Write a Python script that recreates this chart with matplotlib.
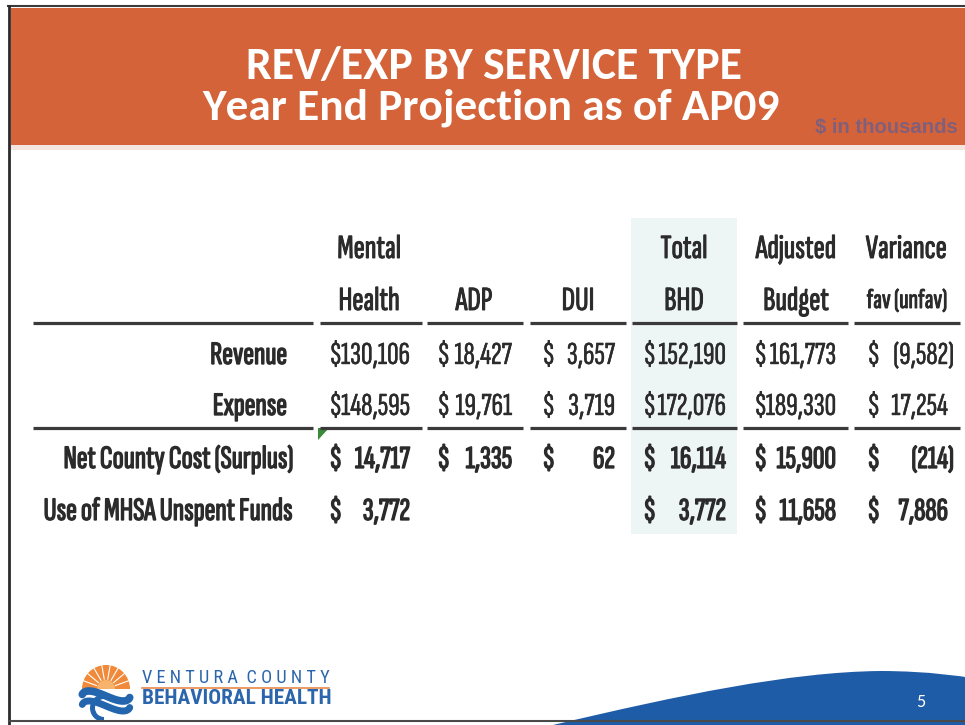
import matplotlib
matplotlib.use("Agg")
import matplotlib.pyplot as plt
import numpy as np
from matplotlib.patches import Rectangle, Polygon, Wedge, PathPatch
from matplotlib.path import Path
from matplotlib.textpath import TextPath
from matplotlib.font_manager import FontProperties
import matplotlib.patheffects as pe

# ---------------- data ----------------
title_lines = ["REV/EXP BY SERVICE TYPE", "Year End Projection as of AP09"]
units_note = "$ in thousands"
header_top = ["Mental", "", "", "Total", "Adjusted", "Variance"]
header_bottom = ["Health", "ADP", "DUI", "BHD", "Budget", "fav (unfav)"]
row_labels = ["Revenue", "Expense", "Net County Cost (Surplus)", "Use of MHSA Unspent Funds"]
revenue = [130106, 18427, 3657, 152190, 161773, -9582]
expense = [148595, 19761, 3719, 172076, 189330, 17254]
net_cost = [14717, 1335, 62, 16114, 15900, -214]
mhsa_use = [3772, None, None, 3772, 11658, 7886]
rows = [revenue, expense, net_cost, mhsa_use]
row_bold = [False, False, True, True]
logo_top = "V E N T U R A  C O U N T Y"
logo_bottom = "BEHAVIORAL HEALTH"
slide_no = "5"

# ---------------- layout ----------------
W, H, DPI = 965, 725, 100
fig = plt.figure(figsize=(W / DPI, H / DPI), dpi=DPI)
ax = fig.add_axes([0, 0, 1, 1])
ax.set_xlim(0, W)
ax.set_ylim(H, 0)
ax.axis("off")

TFONT = ["Carlito", "DejaVu Sans"]
CFONT = ["Sofia Sans Extra Condensed", "Saira ExtraCondensed",
         "Fira Sans Extra Condensed", "DejaVu Sans"]
LFONT = ["Roboto Condensed", "DejaVu Sans"]
TXT = "#2b2b2b"
BOLD = [pe.withStroke(linewidth=0.95, foreground=TXT)]
SEMI = [pe.withStroke(linewidth=0.7, foreground=TXT)]
REG = [pe.withStroke(linewidth=0.3, foreground=TXT)]


def fit(text, target_px, family, weight):
    fp = FontProperties(family=family, weight=weight)
    w = TextPath((0, 0), text, size=100, prop=fp).get_extents().width
    return target_px / (w / 100 * DPI / 72)


# frame
ax.plot([8, 965], [6, 6], color="#3a3a3a", lw=1.5)
ax.plot([9, 9], [6, 725], color="#2a2a2a", lw=2.0)
ax.plot([9, 965], [721, 721], color="#4a4a4a", lw=1.5)

# banner
ax.add_patch(Rectangle((11, 8), W - 11, 137, color="#D4633A", lw=0))
ax.add_patch(Rectangle((11, 145), W - 11, 5, color="#F4E6DF", lw=0))

ts = fit(title_lines[0], 492, TFONT, "bold")
ax.text(494, 79, title_lines[0], color="white", fontsize=ts, family=TFONT,
        weight="bold", ha="center", va="baseline")
ts2 = fit(title_lines[1], 577, TFONT, "bold")
ax.text(491, 119, title_lines[1], color="white", fontsize=ts2, family=TFONT,
        weight="bold", ha="center", va="baseline")
us = fit(units_note, 142, ["Liberation Sans", "DejaVu Sans"], "bold")
ax.text(815, 133, units_note, color="#6B5F8C", fontsize=us,
        family=["Liberation Sans", "DejaVu Sans"], weight="bold", ha="left",
        va="baseline", alpha=0.8)

# shaded total column
ax.add_patch(Rectangle((631, 218), 106, 316, color="#EEF5F5", lw=0, zorder=0))

# table geometry
col_centers = [369, 474, 578, 684, 796, 906]
dollar_x = [329, 437, 542, 643, 754, 867]
num_right = [410, 512, 615, 726, 836, 948]
seg_x = [(33, 313), (320, 422), (427, 523), (530, 626), (632, 737),
         (743, 848), (854, 960)]
line_y = [323, 428]
head_base = [258, 310]
row_base = [364, 415, 468, 520]
label_right = [287, 287, 293, 293]

hs = fit("Adjusted", 79, CFONT, "semibold")
hs_small = fit("fav (unfav)", 79, CFONT, "semibold")
for i in range(len(col_centers)):
    if header_top[i]:
        ax.text(col_centers[i], head_base[0], header_top[i], fontsize=hs,
                family=CFONT, weight="semibold", color=TXT, ha="center",
                va="baseline", path_effects=SEMI)
    small = header_bottom[i] == "fav (unfav)"
    ax.text(col_centers[i] + (1 if small else 0), head_base[1] - (2 if small else 0),
            header_bottom[i], fontsize=hs_small if small else hs,
            family=CFONT, weight="semibold", color=TXT, ha="center",
            va="baseline", path_effects=SEMI)

for y in line_y:
    for x0, x1 in seg_x:
        ax.plot([x0, x1], [y, y], color="#3a3a3a", lw=2.3,
                solid_capstyle="butt")

ls = fit("Net County Cost (Surplus)", 227, CFONT, "bold")
ns = fit("3,657", 47, CFONT, "normal")
for r, lab in enumerate(row_labels):
    ax.text(label_right[r], row_base[r], lab, fontsize=ls, family=CFONT,
            weight="bold", color=TXT, ha="right", va="baseline",
            path_effects=BOLD)
    wt = "bold" if row_bold[r] else "normal"
    eff = BOLD if row_bold[r] else REG
    for c, v in enumerate(rows[r]):
        if v is None:
            continue
        ax.text(dollar_x[c], row_base[r], "$", fontsize=ns, family=CFONT,
                weight=wt, color=TXT, ha="left", va="baseline",
                path_effects=eff)
        if v < 0:
            s = f"({abs(v):,})"
            xr = num_right[c] + 6
        else:
            s = f"{v:,}"
            xr = num_right[c]
        ax.text(xr, row_base[r], s, fontsize=ns, family=CFONT, weight=wt,
                color=TXT, ha="right", va="baseline", path_effects=eff)

# excel comment marker
ax.add_patch(Polygon([[318, 428], [329, 428], [318, 440]], closed=True,
                     color="#3A8A3A", lw=0))

# bottom wave
verts = [(553, 725), (680, 695), (790, 672), (880, 671), (930, 671),
         (965, 677), (965, 677), (965, 725), (553, 725)]
codes = [Path.MOVETO, Path.CURVE4, Path.CURVE4, Path.CURVE4, Path.CURVE4,
         Path.CURVE4, Path.LINETO, Path.LINETO, Path.CLOSEPOLY]
ax.add_patch(PathPatch(Path(verts, codes), facecolor="#1F5CA7", lw=0))
ax.text(921, 707, slide_no, color="white", fontsize=13, family=TFONT,
        ha="center", va="baseline")

# logo
ax.add_patch(Wedge((106, 689), 24, 180, 360, color="#F08A3A", lw=0))
for a in np.linspace(200, 340, 8):
    t = np.deg2rad(a)
    ax.plot([106 + 10 * np.cos(t), 106 + 24 * np.cos(t)],
            [689 + 10 * np.sin(t), 689 + 24 * np.sin(t)], color="white", lw=0.8)
ax.add_patch(Wedge((106, 689), 9, 180, 360, color="#F7B36B", lw=0))
th = np.linspace(np.pi * 0.95, np.pi * 0.05, 40)
for dy, lw in [(0, 5.5), (10, 5.0)]:
    xs = 106 + 24 * np.cos(th)
    ys = 696 + dy + 5 * np.sin(th * 2)
    ax.plot(xs, ys, color="#2466AE", lw=lw, solid_capstyle="round")
ax.add_patch(Wedge((104, 708), 14, 90, 270, width=5, color="#2466AE", lw=0))

lts = fit(logo_top, 187, LFONT, "normal")
ax.text(142, 683, logo_top, fontsize=lts, family=LFONT,
        color="#2B66AD", ha="left", va="baseline")
ax.plot([142, 329], [688, 688], color="#E8874A", lw=1.2)
lbs = fit(logo_bottom, 187, LFONT, "bold")
ax.text(142, 704, logo_bottom, fontsize=lbs, family=LFONT,
        weight="bold", color="#2B66AD", ha="left", va="baseline")

fig.savefig("out.png", dpi=DPI)
